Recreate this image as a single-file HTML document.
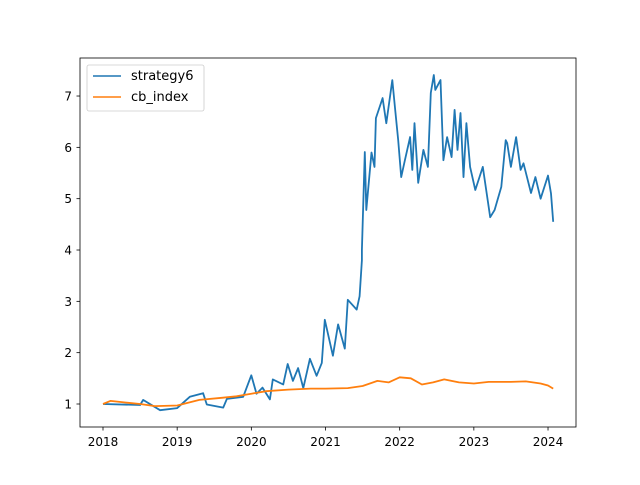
<!DOCTYPE html>
<html><head><meta charset="utf-8"><style>
body{margin:0;background:#fff}
svg{font-family:"DejaVu Sans","Liberation Sans",sans-serif}
</style></head><body>
<svg id="chart" width="640" height="480" viewBox="0 0 640 480">
<rect width="640" height="480" fill="#fff"/>
<g id="plot"></g>
<rect x="80" y="58" width="496" height="369" fill="none" stroke="#000" stroke-width="0.8"/>
<g id="xticks"></g><g id="yticks"></g>
<g>
<rect x="87" y="65" width="117" height="46" rx="2" fill="#fff" fill-opacity="0.8" stroke="#ccc" stroke-width="0.8"/>
<line x1="93" y1="76" x2="121" y2="76" stroke="#1f77b4" stroke-width="1.5"/>
<text x="131" y="80" font-size="13">strategy6</text>
<line x1="93" y1="97" x2="121" y2="97" stroke="#ff7f0e" stroke-width="1.5"/>
<text x="131" y="101" font-size="13">cb_index</text>
</g>
</svg>
<script>
const sT=[2018,2018.5,2018.54,2018.77,2019.0,2019.17,2019.35,2019.4,2019.62,2019.67,2019.89,2020.0,2020.07,2020.15,2020.25,2020.29,2020.43,2020.49,2020.56,2020.63,2020.7,2020.79,2020.88,2020.95,2020.99,2021.1,2021.17,2021.26,2021.3,2021.42,2021.46,2021.49,2021.49,2021.53,2021.55,2021.62,2021.66,2021.68,2021.77,2021.82,2021.9,2021.94,2021.98,2022.02,2022.07,2022.14,2022.17,2022.2,2022.25,2022.32,2022.38,2022.42,2022.46,2022.48,2022.55,2022.59,2022.64,2022.7,2022.74,2022.78,2022.82,2022.86,2022.9,2022.95,2023.02,2023.12,2023.22,2023.28,2023.37,2023.43,2023.45,2023.5,2023.57,2023.63,2023.67,2023.77,2023.83,2023.9,2024.0,2024.04,2024.07];
const sV=[1.0,0.98,1.08,0.88,0.92,1.14,1.21,0.99,0.93,1.1,1.14,1.56,1.2,1.32,1.09,1.48,1.38,1.78,1.45,1.7,1.31,1.88,1.55,1.8,2.64,1.94,2.55,2.08,3.03,2.84,3.1,3.8,4.0,5.91,4.78,5.9,5.62,6.57,6.96,6.47,7.31,6.73,6.14,5.42,5.75,6.2,5.56,6.47,5.31,5.95,5.62,7.06,7.41,7.12,7.31,5.75,6.2,5.81,6.73,5.95,6.67,5.42,6.47,5.62,5.17,5.62,4.64,4.78,5.23,6.14,6.08,5.62,6.2,5.56,5.69,5.11,5.42,5.0,5.45,5.1,4.55];
const cT=[2018,2018.1,2018.3,2018.5,2018.7,2019.0,2019.3,2019.6,2019.8,2020.0,2020.2,2020.5,2020.8,2021.0,2021.3,2021.5,2021.7,2021.85,2022.0,2022.15,2022.3,2022.45,2022.6,2022.8,2023.0,2023.2,2023.5,2023.7,2023.9,2024.0,2024.07];
const cV=[1.0,1.06,1.03,1.0,0.96,0.97,1.08,1.12,1.15,1.2,1.25,1.28,1.3,1.3,1.31,1.35,1.45,1.42,1.52,1.5,1.38,1.42,1.48,1.42,1.4,1.43,1.43,1.44,1.4,1.36,1.3];
const xTicks=[2018,2019,2020,2021,2022,2023,2024];
const yTicks=[1,2,3,4,5,6,7];
const X=t=>103+(t-2018)*74.17, Y=v=>404-(v-1)*51.33;
const ns="http://www.w3.org/2000/svg";
function line(T,V,c,name){const p=document.createElementNS(ns,'polyline');
p.setAttribute('points',T.map((t,i)=>X(t).toFixed(1)+','+Y(V[i]).toFixed(1)).join(' '));
p.setAttribute('fill','none');p.setAttribute('stroke',c);p.setAttribute('stroke-width','1.8');p.setAttribute('stroke-linejoin','round');


document.getElementById('plot').appendChild(p);}
line(sT,sV,'#1f77b4','strategy6-line');
line(cT,cV,'#ff7f0e','cb-index-line');
const xg=document.getElementById('xticks');
xTicks.forEach(t=>{const l=document.createElementNS(ns,'line');l.setAttribute('x1',X(t));l.setAttribute('x2',X(t));l.setAttribute('y1',427);l.setAttribute('y2',430.5);l.setAttribute('stroke','#000');l.setAttribute('stroke-width','0.8');


xg.appendChild(l);
const s=document.createElementNS(ns,'text');s.setAttribute('x',X(t));s.setAttribute('y',446);s.setAttribute('font-size','12');s.setAttribute('text-anchor','middle');s.textContent=t;


xg.appendChild(s);});
const yg=document.getElementById('yticks');
yTicks.forEach(v=>{const l=document.createElementNS(ns,'line');l.setAttribute('x1',76.5);l.setAttribute('x2',80);l.setAttribute('y1',Y(v));l.setAttribute('y2',Y(v));l.setAttribute('stroke','#000');l.setAttribute('stroke-width','0.8');


yg.appendChild(l);
const s=document.createElementNS(ns,'text');s.setAttribute('x',72);s.setAttribute('y',Y(v)+4.5);s.setAttribute('font-size','12');s.setAttribute('text-anchor','end');s.textContent=v;


yg.appendChild(s);});
</script>
</body></html>
